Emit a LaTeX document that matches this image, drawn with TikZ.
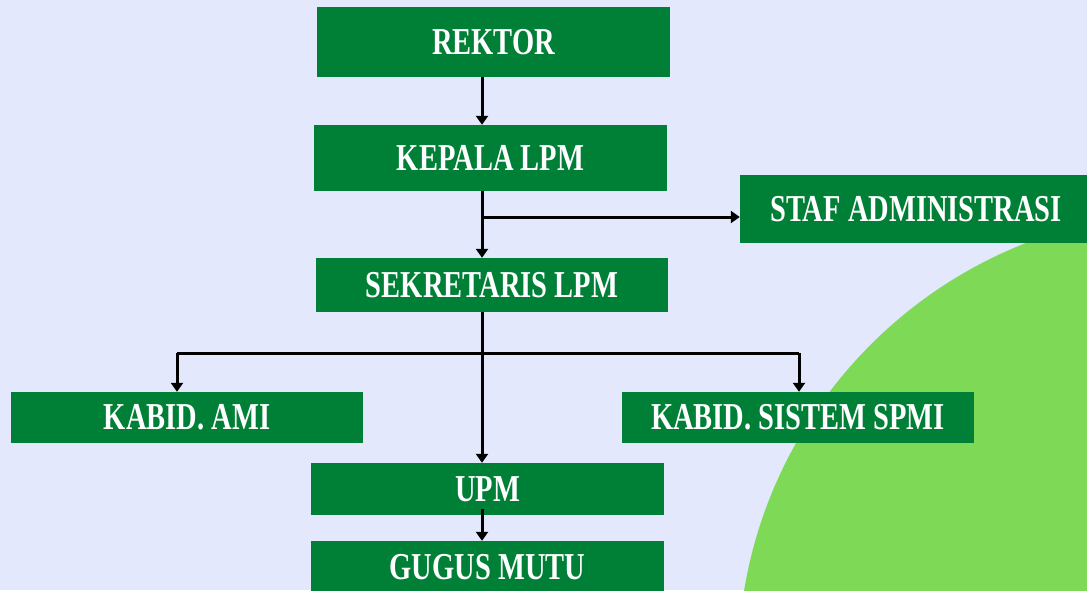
\documentclass[tikz,border=0pt]{standalone}
\usepackage{fontspec}
\newfontfamily\orgfont{Liberation Serif}[FakeStretch=0.75]
\usetikzlibrary{arrows.meta,calc}
\definecolor{bgblue}{RGB}{227,232,252}
\definecolor{boxgreen}{RGB}{0,127,55}
\definecolor{lightgreen}{RGB}{126,217,87}

\begin{document}
\begin{tikzpicture}[x=1pt,y=-1pt,
  box/.style={fill=boxgreen, draw=none, inner sep=0pt, text=white,
    font=\orgfont\bfseries\fontsize{38}{40}\selectfont},
  conn/.style={line width=3pt, -{Triangle[length=9pt,width=12pt]}},
  bar/.style={line width=3pt}]

\clip (0,0) rectangle (1087,590);
\fill[bgblue] (0,0) rectangle (1087,590);
\fill[lightgreen] (1191,665) circle (453pt);

% boxes
\node[box, minimum width=353pt, minimum height=70pt] (rektor) at (493.5, 42.0) {REKTOR};
\node[box, minimum width=353pt, minimum height=66pt] (kepala) at (490.5,158.0) {KEPALA LPM};
\node[box, minimum width=352pt, minimum height=68pt] (staf)   at (916.0,209.0) {STAF ADMINISTRASI};
\node[box, minimum width=352pt, minimum height=54pt] (sek)    at (492.0,285.0) {SEKRETARIS LPM};
\node[box, minimum width=352pt, minimum height=51pt] (ami)    at (187.0,417.5) {KABID. AMI};
\node[box, minimum width=352pt, minimum height=51pt] (spmi)   at (798.0,417.5) {KABID. SISTEM SPMI};
\node[box, minimum width=353pt, minimum height=52pt] (upm)    at (487.5,489.0) {UPM};
\node[box, minimum width=353pt, minimum height=52pt] (gugus)  at (487.5,567.0) {GUGUS MUTU};

% links
\coordinate (spine) at (482,0);
\coordinate (fork)  at (483,217);
\coordinate (bus)   at (482,353);
\coordinate (busl)  at (177,353);
\coordinate (busr)  at (799,353);

\draw[conn] (rektor.south -| spine) -- (kepala.north -| spine);
\draw[conn] (kepala.south -| spine) -- (sek.north -| spine);
\draw[conn] (fork) -- (fork -| staf.west);
\draw[bar]  (sek.south -| spine) -- (bus);
\draw[bar]  (busl) -- (busr);
\draw[conn] (busl) -- (busl |- ami.north);
\draw[conn] (busr) -- (busr |- spmi.north);
\draw[conn] (bus) -- (upm.north -| spine);
\draw[conn] ($(upm.south -| spine)+(0,-6)$) -- (gugus.north -| spine);
\end{tikzpicture}
\end{document}
